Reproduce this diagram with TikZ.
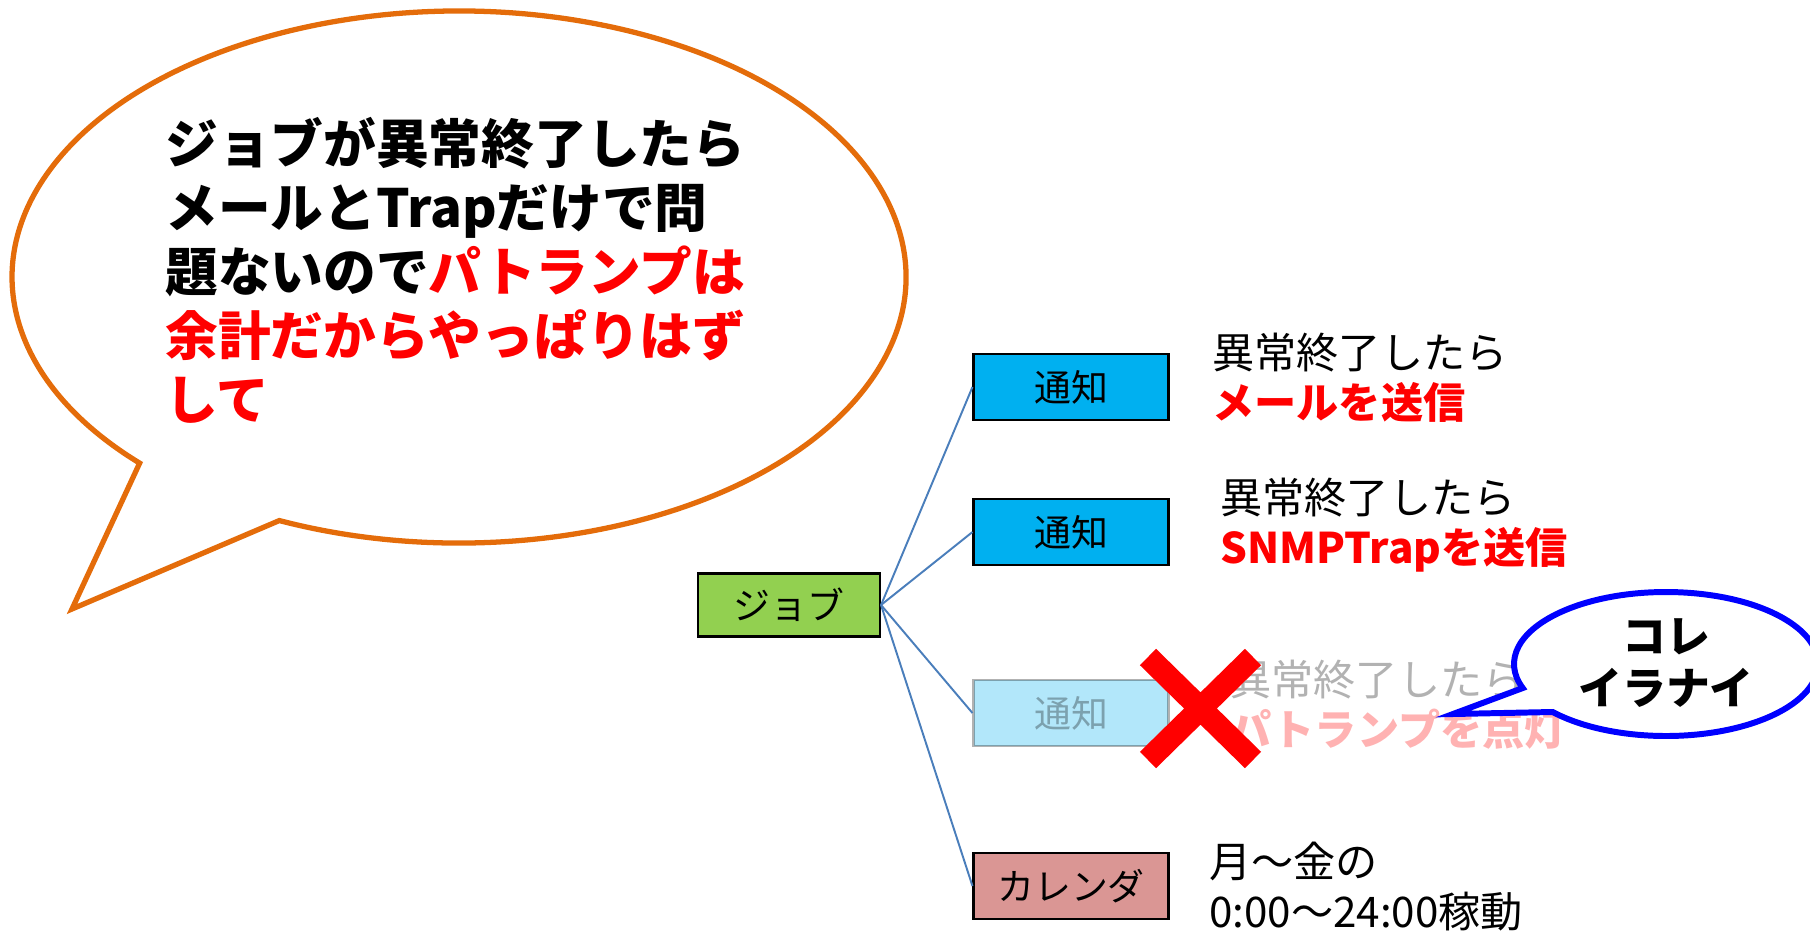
\documentclass[tikz,border=0pt]{standalone}
\usepackage{fontspec}
\setmainfont{Noto Sans CJK JP}
\usetikzlibrary{shapes}
\definecolor{jobgreen}{HTML}{92D050}
\definecolor{noticecyan}{HTML}{00B0F0}
\definecolor{calpink}{HTML}{DA9694}
\definecolor{talkorange}{HTML}{E46C0A}
\definecolor{linkblue}{HTML}{4A7EBB}
\tikzstyle{box} = [rectangle,draw,line width=1.2pt,text centered,minimum width=3.9cm,minimum height=1.32cm,font=\fontsize{21}{25}\selectfont]
\tikzstyle{memo} = [anchor=north west,align=left,inner sep=0pt,font=\fontsize{24}{28.45}\selectfont]
\tikzstyle{link} = [linkblue,line width=1.1pt]

\begin{document}
\begin{tikzpicture}[x=0.02cm,y=-0.02cm]
    \useasboundingbox (0,0) rectangle (1810,931);

    % big speech bubble
    \coordinate (talkc) at (459,277);
    \draw[talkorange,line width=3pt,fill=white] (talkc) ++(113.7:447 and 266) arc[start angle=113.7,end angle=-224.4,x radius=447,y radius=266] -- (72,609) -- cycle;
    \node[anchor=north west,align=left,inner sep=0pt,font=\fontsize{30}{36.4}\selectfont\bfseries](claim) at (165,117) {ジョブが異常終了したら\\メールとTrapだけで問\\題ないので{\color{red}パトランプは}\\{\color{red}余計だからやっぱりはず}\\{\color{red}して}};

    \node[box,fill=jobgreen,minimum width=3.64cm,minimum height=1.26cm](job) at (789,605) {ジョブ};
    \node[box,fill=noticecyan](mail) at (1071,387) {通知};
    \node[box,fill=noticecyan](trap) at (1071,532) {通知};
    \node[box,fill=noticecyan,opacity=0.3](lamp) at (1071,713) {通知};
    \node[box,fill=calpink](cal) at (1071,886) {カレンダ};

    \node[memo](mailtext) at (1212,333) {異常終了したら\\{\bfseries\color{red}メールを送信}};
    \node[memo](traptext) at (1220,478) {異常終了したら\\{\bfseries\color{red}SNMPTrapを送信}};
    \node[memo,opacity=0.3](lamptext) at (1229,660) {異常終了したら\\{\bfseries\color{red}パトランプを点灯}};
    \node[memo](caltext) at (1209,842) {月～金の\\0:00～24:00稼動};

    \foreach \n in {mail,trap,lamp,cal}
        \draw[link] (job.east) -- (\n.west);

    % red cross
    \draw[red,line width=0.46cm] (1148,657) -- (1253,760) (1253,657) -- (1148,760);

    % small speech bubble
    \coordinate (nopec) at (1666,664);
    \draw[blue,line width=3.4pt,fill=white] (nopec) ++(138.2:152 and 72) arc[start angle=138.2,end angle=-199.5,x radius=152,y radius=72] -- (1453,714) -- cycle;
    \node[align=center,font=\fontsize{25}{29.5}\selectfont\bfseries](nope) at (1666,663) {コレ\\イラナイ};

\end{tikzpicture}
\end{document}
